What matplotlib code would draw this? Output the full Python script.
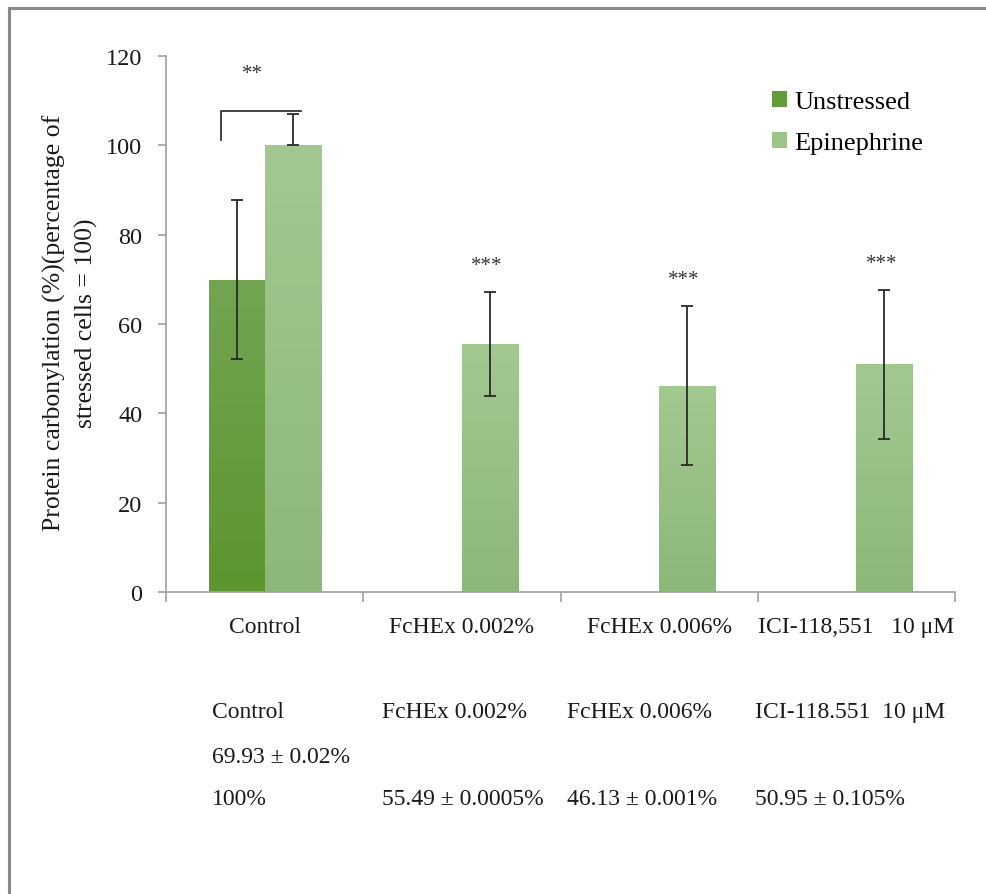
import matplotlib
matplotlib.use('Agg')
import matplotlib.pyplot as plt
from matplotlib.lines import Line2D
from matplotlib.colors import LinearSegmentedColormap
import numpy as np

plt.rcParams['font.family'] = ['Liberation Serif', 'DejaVu Serif']

# data
categories = ['Control', 'FcHEx 0.002%', 'FcHEx 0.006%', 'ICI-118,551   10 μM']
unstressed = [69.93]
unstressed_err = [17.8]
epinephrine = [100, 55.49, 46.13, 50.95]
epi_err_low = [0, 11.7, 17.8, 16.8]
epi_err_high = [7, 11.7, 17.8, 16.7]
epi_stars = ['', '***', '***', '***']
control_star = '**'

table_rows = [
    ['Control', 'FcHEx 0.002%', 'FcHEx 0.006%', 'ICI-118.551  10 μM'],
    ['69.93 ± 0.02%', '', '', ''],
    ['100%', '55.49 ± 0.0005%', '46.13 ± 0.001%', '50.95 ± 0.105%'],
]

c_unst = '#649c3c'
c_epi = '#9bc487'
grad_unst = ('#5c962e', '#71a552')   # bottom, top
grad_epi = ('#8db879', '#a3c890')

fig = plt.figure(figsize=(9.86, 8.95), dpi=100)
W, H = 986, 895
ax = fig.add_axes([166 / W, 1 - 593 / H, (955 - 166) / W, (593 - 57) / H])

x = np.arange(len(categories))
w = 0.284
b1 = ax.bar(x[:1] - w / 2, unstressed, w, color=c_unst, label='Unstressed', zorder=2)
b2 = ax.bar(x + w / 2, epinephrine, w, color=c_epi, label='Epinephrine', zorder=2)

# soft vertical gradient like the original (Excel style fill)
ramp = np.linspace(0, 1, 256).reshape(-1, 1)
for bars, cols in [(b1, grad_unst), (b2, grad_epi)]:
    cmap = LinearSegmentedColormap.from_list('g', cols)
    for p in bars:
        x0, y0 = p.get_x(), p.get_y()
        im = ax.imshow(ramp, cmap=cmap, origin='lower', aspect='auto',
                       extent=[x0, x0 + p.get_width(), y0, y0 + p.get_height()],
                       zorder=2.1)
        im.set_clip_path(p)

ax.errorbar(x[:1] - w / 2, unstressed, yerr=unstressed_err, fmt='none',
            ecolor='#2a2a2a', elinewidth=1.3, capsize=4.3, capthick=1.3, zorder=3)
ax.errorbar(x + w / 2, epinephrine, yerr=[epi_err_low, epi_err_high], fmt='none',
            ecolor='#2a2a2a', elinewidth=1.3, capsize=4.3, capthick=1.3, zorder=3)

# significance marks
for xi, v, e, s in zip(x, epinephrine, epi_err_high, epi_stars):
    if s:
        ax.text(xi + w / 2 - 0.015, v + e + 6.0, s, ha='center', va='center',
                fontsize=15, color='#333333')
top = epinephrine[0] + epi_err_high[0] + 0.7
ax.plot([x[0] - w / 2 - 0.08, x[0] - w / 2 - 0.08, x[0] + w / 2 + 0.04],
        [top - 6.5, top, top], color='#333333', lw=1.3)
ax.text(x[0] - 0.064, 116.0, control_star, ha='center', va='center',
        fontsize=15, color='#333333')

ax.set_xlim(-0.5, len(categories) - 0.5)
ax.set_ylim(0, 120)
ax.set_yticks(np.arange(0, 121, 20))
ax.set_xticks(x)
ax.set_xticklabels(categories, fontsize=17)
ax.set_xticks(np.arange(-0.5, len(categories), 1), minor=True)
ax.tick_params(axis='x', which='major', length=0, pad=17, colors='#1a1a1a')
ax.tick_params(axis='x', which='minor', length=7, color='#a0a0a0', width=1.2)
ax.tick_params(axis='y', length=6, color='#a0a0a0', width=1.2, pad=11,
               labelsize=17.5, labelcolor='#1a1a1a')
for side in ['top', 'right']:
    ax.spines[side].set_visible(False)
for side in ['left', 'bottom']:
    ax.spines[side].set_color('#a0a0a0')
    ax.spines[side].set_linewidth(1.2)

fig.text(70 / W, 1 - 323 / H,
         'Protein carbonylation (%)(percentage of\nstressed cells = 100)',
         rotation=90, ha='center', va='center', fontsize=18.5,
         linespacing=1.5, color='#1a1a1a')

ax.legend(loc='upper left', bbox_to_anchor=(772 / W, 1 - 92 / H),
          bbox_transform=fig.transFigure, frameon=False, fontsize=19,
          handlelength=0.55, handleheight=0.55, handletextpad=0.3,
          labelspacing=0.7, borderpad=0, borderaxespad=0)

# summary table under the chart
col_x = [212, 382, 567, 755]
row_y = [713, 758, 800]
for ry, row in zip(row_y, table_rows):
    for cx, txt in zip(col_x, row):
        if txt:
            fig.text(cx / W, 1 - ry / H, txt, ha='left', va='center',
                     fontsize=17, color='#1a1a1a')

# outer frame (left and top edges visible)
fig.add_artist(Line2D([9 / W, 9 / W], [0, 1 - 9 / H], color='#8a8a8a', lw=2.2))
fig.add_artist(Line2D([9 / W, 1], [1 - 9 / H, 1 - 9 / H], color='#8a8a8a', lw=2.2))

fig.savefig('out.png', dpi=100, facecolor='white')
